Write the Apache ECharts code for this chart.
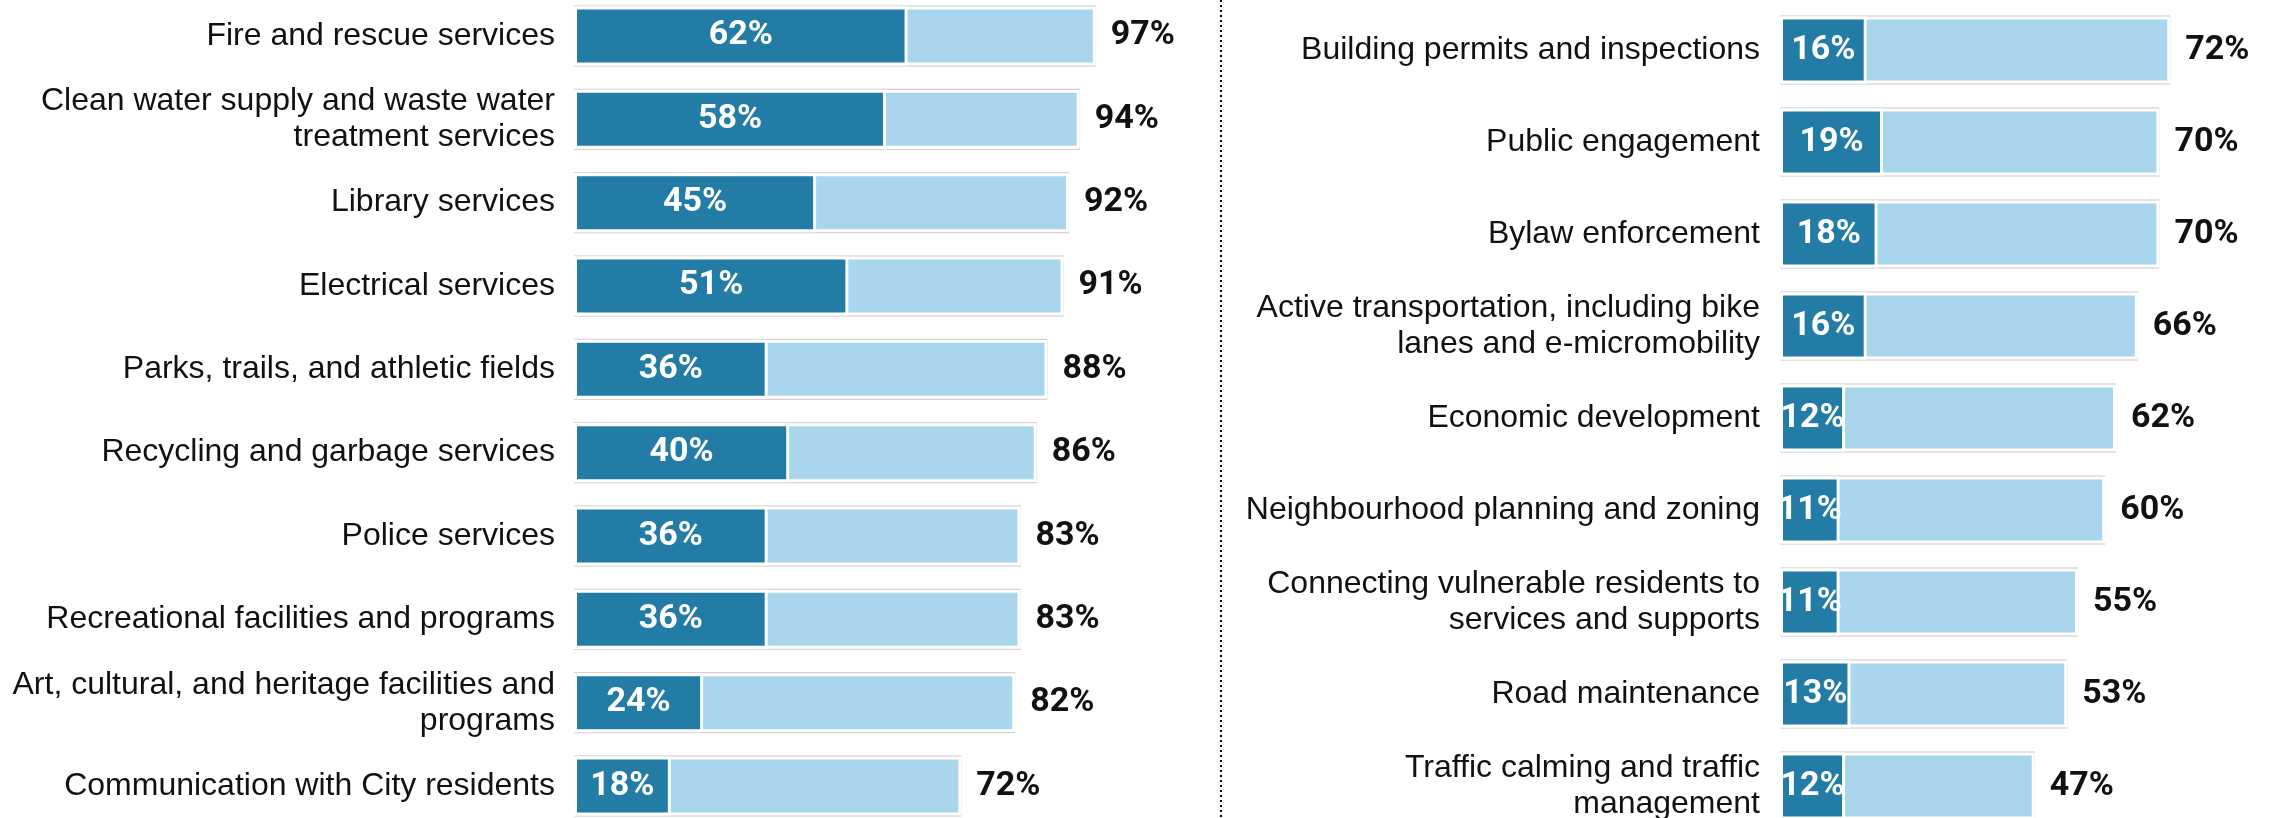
<!DOCTYPE html>
<html>
<head>
<meta charset="utf-8">
<script src="https://cdn.jsdelivr.net/npm/echarts@6/dist/echarts.min.js"></script>
<style>
  html, body { margin: 0; padding: 0; background: #fff; }
  #chart { width: 2277px; height: 818px; }
</style>
</head>
<body>
<div id="chart"></div>
<script>
// left panel
const leftCats = [
  'Fire and rescue services',
  'Clean water supply and waste water\ntreatment services',
  'Library services',
  'Electrical services',
  'Parks, trails, and athletic fields',
  'Recycling and garbage services',
  'Police services',
  'Recreational facilities and programs',
  'Art, cultural, and heritage facilities and\nprograms',
  'Communication with City residents'
];
const leftDark = [62, 58, 45, 51, 36, 40, 36, 36, 24, 18];
const leftTotal = [97, 94, 92, 91, 88, 86, 83, 83, 82, 72];

// right panel
const rightCats = [
  'Building permits and inspections',
  'Public engagement',
  'Bylaw enforcement',
  'Active transportation, including bike\nlanes and e-micromobility',
  'Economic development',
  'Neighbourhood planning and zoning',
  'Connecting vulnerable residents to\nservices and supports',
  'Road maintenance',
  'Traffic calming and traffic\nmanagement'
];
const rightDark = [16, 19, 18, 16, 12, 11, 11, 13, 12];
const rightTotal = [72, 70, 70, 66, 62, 60, 55, 53, 47];

const DARK = '#227ca5';
const LIGHT = '#a9d6ec';
const valueFont = { fontFamily: 'Roboto', fontWeight: 'bold', fontSize: 34 };

const chart = echarts.init(document.getElementById('chart'));

// one panel = outline bar (own y axis) + light total bar + dark bar
const makeSeries = (gi, dark, total, outerW, fillW) => [
  {
    type: 'bar', xAxisIndex: gi, yAxisIndex: gi * 2 + 1,
    data: total, barWidth: outerW, silent: true,
    itemStyle: { color: '#fff', borderColor: '#c6c6c6', borderWidth: 1.5 },
    label: {
      show: true, position: 'right', distance: 15, formatter: '{c}%',
      color: '#111', ...valueFont
    }
  },
  {
    type: 'bar', xAxisIndex: gi, yAxisIndex: gi * 2,
    data: total, barWidth: fillW, barGap: '-100%', silent: true,
    itemStyle: { color: LIGHT, borderColor: '#fff', borderWidth: 3 }
  },
  {
    type: 'bar', xAxisIndex: gi, yAxisIndex: gi * 2,
    data: dark, barWidth: fillW, barGap: '-100%', silent: true,
    itemStyle: { color: DARK, borderColor: '#fff', borderWidth: 3 },
    label: {
      show: true, position: 'inside', formatter: '{c}%',
      color: '#fff', ...valueFont
    }
  }
];

const catAxis = (gi, cats, margin, showLabel) => ({
  type: 'category', gridIndex: gi, data: cats, inverse: true,
  axisLine: { show: false }, axisTick: { show: false },
  axisLabel: {
    show: showLabel, margin: margin, color: '#111',
    fontFamily: 'Liberation Sans', fontSize: 32, lineHeight: 36, align: 'right'
  }
});

const option = {
  animation: false,
  grid: [
    { left: 574, top: -5.7, width: 538, height: 833.4, outerBoundsMode: 'none', containLabel: false },
    { left: 1780, top: 4, width: 433.6, height: 828, outerBoundsMode: 'none', containLabel: false }
  ],
  xAxis: [
    { type: 'value', gridIndex: 0, min: 0, max: 100, show: false },
    { type: 'value', gridIndex: 1, min: 0, max: 80, show: false }
  ],
  yAxis: [
    catAxis(0, leftCats, 19, true),
    catAxis(0, leftCats, 19, false),
    catAxis(1, rightCats, 20, true),
    catAxis(1, rightCats, 20, false)
  ],
  series: [
    ...makeSeries(0, leftDark, leftTotal, 61, 59),
    ...makeSeries(1, rightDark, rightTotal, 69, 67)
  ],
  graphic: [{
    type: 'line',
    shape: { x1: 1221, y1: 0, x2: 1221, y2: 818 },
    style: { stroke: '#000', lineWidth: 2, lineDash: [2, 3] }
  }]
};

chart.setOption(option);
</script>
</body>
</html>
